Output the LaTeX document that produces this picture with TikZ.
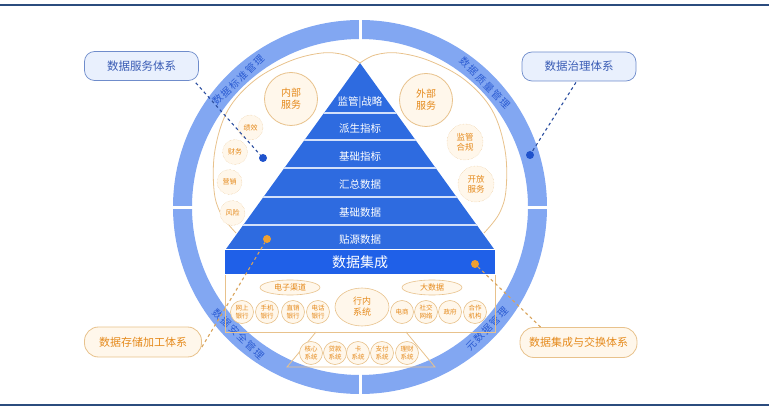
\documentclass[tikz,border=0pt]{standalone}
\usepackage{fontspec}
\setmainfont{Noto Sans CJK SC}
\usetikzlibrary{calc,shapes.geometric}
\definecolor{ringblue}{HTML}{82A7F2}
\definecolor{ringtext}{HTML}{2C5CD2}
\definecolor{pyr}{HTML}{2E6BE0}
\definecolor{pyrdark}{HTML}{1F60E8}
\definecolor{sepc}{HTML}{D3E0FA}
\definecolor{tanc}{HTML}{E8C28C}
\definecolor{cream}{HTML}{FFF7EB}
\definecolor{orangetext}{HTML}{E58A1C}
\definecolor{blueboxc}{HTML}{E9F0FD}
\definecolor{blueedge}{HTML}{6F8CCB}
\definecolor{bluetext}{HTML}{3A5CB5}
\definecolor{framec}{HTML}{2B4C7E}
\definecolor{dotblue}{HTML}{1F52CC}
\definecolor{dotorange}{HTML}{F0A030}
\definecolor{dashorange}{HTML}{D9A35A}
\definecolor{dashblue}{HTML}{2C4FA0}
\def\ks{\kern1.4pt}
\tikzset{
  ringlbl/.style={font=\fontsize{10}{11}\selectfont, text=ringtext, inner sep=0pt},
  bandtxt/.style={font=\fontsize{10.5}{12}\selectfont, text=white, inner sep=0pt},
  tanline/.style={draw=tanc, line width=0.8pt},
  sc/.style={circle, draw=tanc, densely dotted, fill=cream, minimum size=25pt, inner sep=0pt,
    font=\fontsize{7}{8}\selectfont, text=orangetext, align=center},
  mc/.style={circle, draw=tanc, densely dotted, fill=cream, minimum size=36pt, inner sep=0pt,
    font=\fontsize{8.5}{10}\selectfont, text=orangetext, align=center},
  bc/.style={circle, draw=tanc, line width=0.8pt, fill=cream, minimum size=53pt, inner sep=0pt,
    font=\fontsize{10}{12}\selectfont, text=orangetext, align=center},
  tc/.style={circle, draw=tanc, line width=0.6pt, fill=cream, minimum size=23pt, inner sep=0pt,
    font=\fontsize{6.5}{7.5}\selectfont, text=orangetext, align=center},
  ec/.style={ellipse, draw=tanc, line width=0.6pt, fill=cream, minimum width=60pt, minimum height=15pt,
    inner sep=0pt, font=\fontsize{8}{9}\selectfont, text=orangetext},
  bluebox/.style={draw=blueedge, line width=0.7pt, fill=blueboxc, rounded corners=10pt,
    minimum width=114pt, minimum height=29pt, inner sep=0pt,
    font=\fontsize{11.5}{13}\selectfont, text=bluetext},
  orgbox/.style={draw=tanc, line width=0.8pt, fill=cream, rounded corners=14pt,
    minimum width=117pt, minimum height=30pt, inner sep=0pt,
    font=\fontsize{11}{13}\selectfont, text=orangetext},
  bdot/.style={circle, fill=dotblue, minimum size=8pt, inner sep=0pt},
  odot/.style={circle, fill=dotorange, minimum size=8pt, inner sep=0pt},
  bluedash/.style={draw=dashblue, dashed, line width=1.1pt},
  orgdash/.style={draw=dashorange, dashed, line width=1.1pt},
}
\begin{document}
\begin{tikzpicture}[x=1pt,y=-1pt]
\useasboundingbox (0,0) rectangle (769,414);
% frame lines
\draw[framec, line width=2.5pt] (0,5) -- (769,5);
\draw[framec, line width=2.5pt] (0,405) -- (769,405);
% ring
\fill[ringblue, even odd rule] (360,207) circle[radius=187pt] (360,207) circle[radius=168pt];
\draw[white, line width=3pt] (360,14) -- (360,45);
\draw[white, line width=3pt] (360,369) -- (360,400);
\draw[white, line width=3pt] (166,207.5) -- (198,207.5);
\draw[white, line width=3pt] (522,207.5) -- (554,207.5);
% ring labels
\node[ringlbl, rotate=43.8] (r1) at ([shift={(133.8:176pt)}]360,207) {数\ks 据\ks 标\ks 准\ks 管\ks 理};
\node[ringlbl, rotate=-45.2] (r2) at ([shift={(44.8:176pt)}]360,207) {数\ks 据\ks 质\ks 量\ks 管\ks 理};
\node[ringlbl, rotate=-43.75] (r3) at ([shift={(226.25:176pt)}]360,207) {数\ks 据\ks 安\ks 全\ks 管\ks 理};
\node[ringlbl, rotate=46.1] (r4) at ([shift={(316.1:176pt)}]360,207) {元\ks 数\ks 据\ks 管\ks 理};
% tan lobes
\draw[tanline] plot[smooth, tension=0.6] coordinates {(236,233) (221,214) (214,190) (215,150) (228,110) (255,80) (290,61) (322,53) (345,55) (360,63)};
\draw[tanline] plot[smooth, tension=0.6] coordinates {(484,233) (499,214) (506,190) (505,150) (492,110) (465,80) (430,61) (398,53) (375,55) (360,63)};
% pyramid
\fill[pyr] (360,63) -- (494,249) -- (226,249) -- cycle;
\begin{scope}
\clip (360,63) -- (494,249) -- (226,249) -- cycle;
\foreach \yy in {113,140,168,197,225} \draw[sepc, line width=2pt] (200,\yy) -- (520,\yy);
\end{scope}
\node[bandtxt] (b1) at (360,103) {监管|战略};
\node[bandtxt] (b2) at (360,129) {派生指标};
\node[bandtxt] (b3) at (360,157) {基础指标};
\node[bandtxt] (b4) at (360,185) {汇总数据};
\node[bandtxt] (b5) at (360,213) {基础数据};
\node[bandtxt] (b6) at (360,240) {贴源数据};
\node[fill=pyrdark, minimum width=270pt, minimum height=24pt, inner sep=0pt,
  font=\fontsize{14}{16}\selectfont, text=white] (dj) at (360,262.5) {数据集成};
% circles in lobes
\node[bc] (nb) at (291,99) {内部\\服务};
\node[bc] (wb) at (426,100) {外部\\服务};
\node[sc] (jx) at (250.5,127.5) {绩效};
\node[sc] (cw) at (235,152) {财务};
\node[sc] (yx) at (229.5,182) {营销};
\node[sc] (fx) at (232.5,213) {风险};
\node[mc] (jg) at (465,142) {监管\\合规};
\node[mc] (kf) at (476,184) {开放\\服务};
% lower box
\draw[tanline] (225,275) -- (225,332) -- (495,332) -- (495,275);
\draw[tanline] (316,332) -- (287,367) -- (435,367) -- (406,332);
\node[ec] (dz) at (290,287.5) {电子渠道};
\node[ec] (dsj) at (432,287.5) {大数据};
\node[ellipse, draw=tanc, line width=0.6pt, fill=cream, minimum width=54pt, minimum height=38pt,
  inner sep=0pt, font=\fontsize{9}{11}\selectfont, text=orangetext, align=center] (hn) at (362,307) {行内\\系统};
\node[tc] (t1) at (242,312) {网上\\银行};
\node[tc] (t2) at (267,312) {手机\\银行};
\node[tc] (t3) at (293,312) {直销\\银行};
\node[tc] (t4) at (318,312) {电话\\银行};
\node[tc] (t5) at (402,312) {电商};
\node[tc] (t6) at (426,312) {社交\\网络};
\node[tc] (t7) at (450,312) {政府};
\node[tc] (t8) at (475,312) {合作\\机构};
\node[tc] (s1) at (311,353) {核心\\系统};
\node[tc] (s2) at (335,353) {贷款\\系统};
\node[tc] (s3) at (358,353) {卡\\系统};
\node[tc] (s4) at (382,353) {支付\\系统};
\node[tc] (s5) at (407,353) {理财\\系统};
% callouts
\node[bluebox] (svc) at (141.5,66) {数据服务体系};
\node[bluebox] (gov) at (579,66.5) {数据治理体系};
\node[orgbox] (sto) at (143,342) {数据存储加工体系};
\node[orgbox] (exc) at (578.5,342.5) {数据集成与交换体系};
% dots
\node[bdot] (d1) at (263,158) {};
\node[bdot] (d2) at (530,155) {};
\node[odot] (d3) at (267,239) {};
\node[odot] (d4) at (475,264) {};
% connectors
\draw[bluedash] ($(svc.south east)+(-3,2)$) -- (d1);
\draw[bluedash] ($(gov.south)+(-3,1)$) -- (d2);
\draw[orgdash] ([yshift=-5pt]sto.east) -- (d3);
\draw[orgdash] ([xshift=21pt]exc.north west) -- (d4);
\end{tikzpicture}
\end{document}
